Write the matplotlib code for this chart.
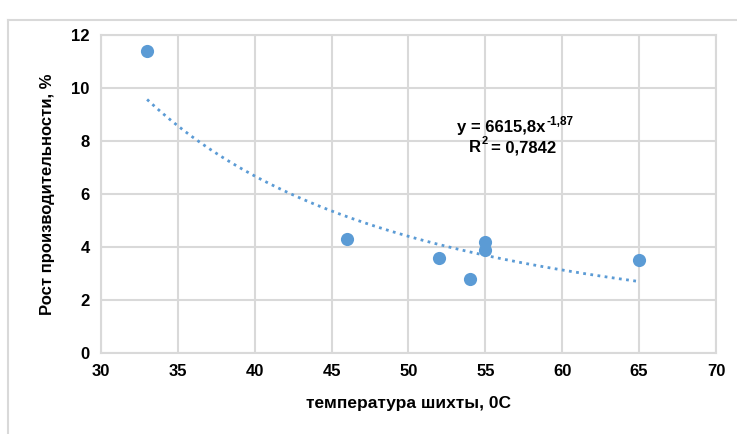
import numpy as np
import matplotlib.pyplot as plt
from matplotlib.lines import Line2D

# data
temp = [33, 46, 52, 54, 55, 55, 65]
growth = [11.4, 4.3, 3.6, 2.8, 4.2, 3.9, 3.5]

# power trendline y = a * x^b
coef_a = 6615.8
coef_b = -1.87
trend_x = np.linspace(33, 65, 200)
trend_y = coef_a * trend_x ** coef_b

x_ticks = [30, 35, 40, 45, 50, 55, 60, 65, 70]
y_ticks = [0, 2, 4, 6, 8, 10, 12]

plt.rcParams["font.family"] = ["Liberation Sans", "DejaVu Sans"]

fig = plt.figure(figsize=(7.37, 4.34), dpi=100)
ax = fig.add_axes([0.137, 0.187, 0.8345, 0.732])

grid_col = "#D9D9D9"
blue = "#5B9BD5"

ax.plot(trend_x, trend_y, linestyle=(0, (1, 1.6)), color=blue, linewidth=2, zorder=2)
ax.scatter(temp, growth, s=90, color=blue, zorder=3, linewidths=0)

ax.set_xlim(30, 70)
ax.set_ylim(0, 12)
ax.set_xticks(x_ticks)
ax.set_yticks(y_ticks)
ax.tick_params(length=0, labelsize=12, pad=8)
for lab in ax.get_xticklabels() + ax.get_yticklabels():
    lab.set_fontweight("bold")
ax.grid(True, color=grid_col, linewidth=1.5)
for sp in ax.spines.values():
    sp.set_color(grid_col)
    sp.set_linewidth(1.5)
ax.set_axisbelow(True)

ax.set_xlabel("температура шихты, 0С", fontsize=12.5, fontweight="bold", labelpad=12)
ax.set_ylabel("Рост производительности, %", fontsize=12, fontweight="bold", labelpad=12)

# trendline equation, superscripts drawn as small separate texts
ax.text(58.9, 8.5, "y = 6615,8x", fontsize=12, fontweight="bold", ha="right", va="center")
ax.annotate("-1,87", (58.9, 8.5), xytext=(0.5, 4.5), textcoords="offset points",
            fontsize=8.5, fontweight="bold", ha="left", va="center")
ax.text(54.7, 7.75, "R", fontsize=12, fontweight="bold", ha="right", va="center")
ax.annotate("2", (54.7, 7.75), xytext=(0.5, 4.5), textcoords="offset points",
            fontsize=8, fontweight="bold", ha="left", va="center")
ax.text(55.35, 7.75, "= 0,7842", fontsize=12, fontweight="bold", ha="left", va="center")

# chart area border (cut off at right and bottom)
fig.add_artist(Line2D([8 / 737, 1], [1 - 20 / 434, 1 - 20 / 434], color=grid_col, linewidth=1.5))
fig.add_artist(Line2D([8 / 737, 8 / 737], [0, 1 - 20 / 434], color=grid_col, linewidth=1.5))

fig.savefig("out.png", dpi=100)
